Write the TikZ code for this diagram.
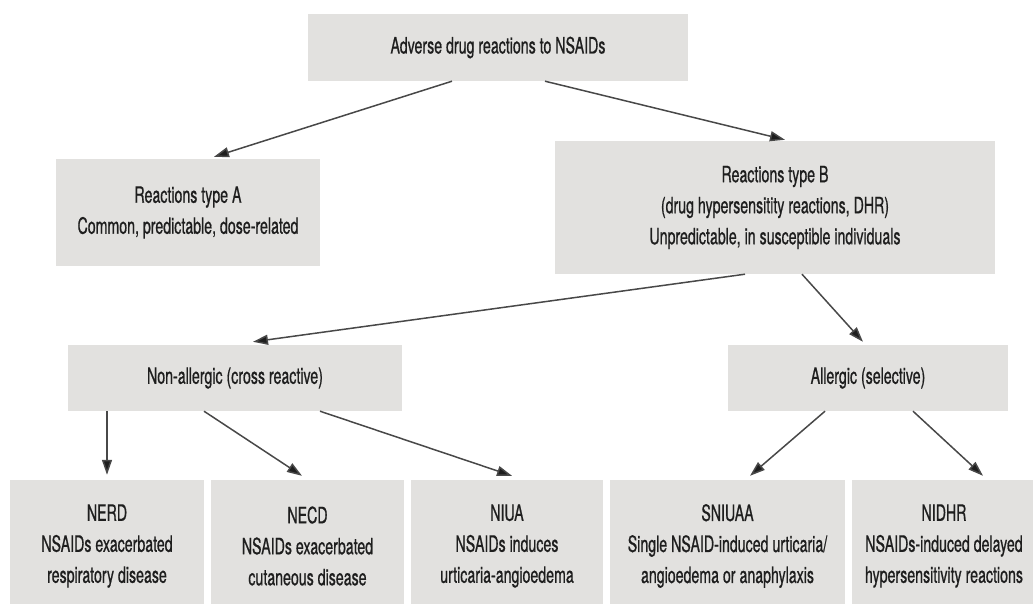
\documentclass[tikz,border=0pt]{standalone}
\usepackage{fontspec}
\setmainfont[FakeStretch = 0.63, FakeBold = 0.7]{TeX Gyre Heros}
\usetikzlibrary{arrows.meta}

\definecolor{boxgray}{RGB}{226,225,223}
\definecolor{linegray}{RGB}{72,72,72}
\definecolor{textgray}{RGB}{30,30,30}

\begin{document}
\begin{tikzpicture}[x = 1pt, y = -1pt,
  box/.style = {fill = boxgray, inner sep = 0, align = center,
    text = textgray, font = \fontsize{22.5}{31}\selectfont},
  arr/.style = {draw = linegray, line width = 1.5pt,
    -{Triangle[length = 15pt, width = 10pt, fill = textgray]}}]
  \useasboundingbox (0, 0) rectangle (1033, 604);

  \node[box, minimum width = 380, minimum height = 67] (adr) at (498, 47.5)
  {Adverse drug reactions to NSAIDs};
  \node[box, minimum width = 264, minimum height = 107] (typeA) at (188, 212.5)
  {Reactions type A\\Common, predictable, dose-related};
  \node[box, minimum width = 440, minimum height = 133] (typeB) at (775, 207.5)
  {Reactions type B\\(drug hypersensitity reactions, DHR)\\Unpredictable, in
    susceptible individuals};

  \node[box, minimum width = 334, minimum height = 66] (nonallerg) at (235, 378)
  {Non-allergic (cross reactive)};
  \node[box, minimum width = 280, minimum height = 66] (allerg) at (868, 378)
  {Allergic (selective)};

  \node[box, minimum width = 194, minimum height = 132] (nerd) at (107, 546)
  {NERD\\NSAIDs exacerbated\\respiratory disease};
  \node[box, minimum width = 193, minimum height = 132] (necd) at (307.5, 546)
  {NECD\\NSAIDs exacerbated\\cutaneous disease};
  \node[box, minimum width = 192, minimum height = 132] (niua) at (507, 546)
  {NIUA\\NSAIDs induces\\urticaria-angioedema};
  \node[box, minimum width = 235, minimum height = 132] (sniuaa) at (727.5, 546)
  {SNIUAA\\Single NSAID-induced urticaria/\\angioedema or anaphylaxis};
  \node[box, minimum width = 184, minimum height = 132] (nidhr) at (944, 546)
  {NIDHR\\NSAIDs-induced delayed\\hypersensitivity reactions};

  \draw[arr] ([xshift = -46pt]adr.south) -- ([xshift = 26pt, yshift = 2pt]typeA.north);
  \draw[arr] ([xshift = 47pt]adr.south) -- ([xshift = 10pt, yshift = 1pt]typeB.north);

  \draw[arr] ([xshift = -30pt]typeB.south) -- ([xshift = 18pt, yshift = 3pt]nonallerg.north);
  \draw[arr] ([xshift = 27pt]typeB.south) -- ([xshift = -5pt, yshift = 3pt]allerg.north);

  \draw[arr] ([xshift = -128pt]nonallerg.south) -- ([yshift = 5pt]nerd.north);
  \draw[arr] ([xshift = -31pt]nonallerg.south) -- ([xshift = -5.5pt, yshift = 4pt]necd.north);
  \draw[arr] ([xshift = 85pt]nonallerg.south) -- ([xshift = 5pt, yshift = 4pt]niua.north);

  \draw[arr] ([xshift = -43pt]allerg.south) -- ([xshift = 22.5pt, yshift = 4pt]sniuaa.north);
  \draw[arr] ([xshift = 45pt]allerg.south) -- ([xshift = 39pt, yshift = 4pt]nidhr.north);
\end{tikzpicture}
\end{document}
